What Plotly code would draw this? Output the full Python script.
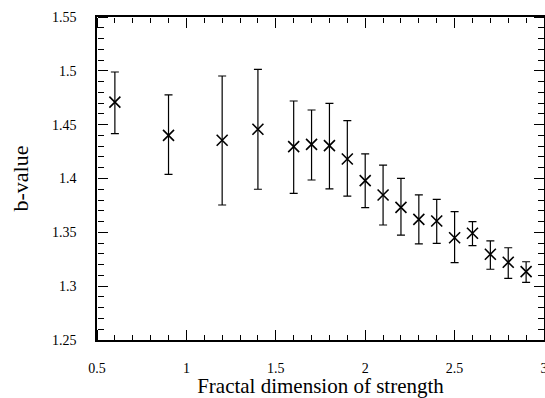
import plotly.graph_objects as go

fractal_dim = [0.6, 0.9, 1.2, 1.4, 1.6, 1.7, 1.8, 1.9, 2.0, 2.1, 2.2, 2.3, 2.4, 2.5, 2.6, 2.7, 2.8, 2.9]
b_value = [1.471, 1.440, 1.4355, 1.4457, 1.4296, 1.4317, 1.4305, 1.4181, 1.398, 1.3847,
           1.3732, 1.3621, 1.3605, 1.345, 1.3491, 1.3296, 1.3222, 1.3135]
b_upper = [1.4989, 1.4776, 1.4952, 1.5014, 1.472, 1.4636, 1.4698, 1.4537, 1.4228, 1.4125,
           1.4002, 1.3847, 1.3807, 1.3692, 1.3599, 1.342, 1.3357, 1.3227]
b_lower = [1.4416, 1.4039, 1.3754, 1.390, 1.3862, 1.3986, 1.3903, 1.3837, 1.3729, 1.3568,
           1.3475, 1.3392, 1.3398, 1.3218, 1.3377, 1.3157, 1.3073, 1.3036]

x_range = [0.5, 3]
y_range = [1.25, 1.55]
x_ticks = [0.5, 1, 1.5, 2, 2.5, 3]
x_tick_labels = ["0.5", "1", "1.5", "2", "2.5", "3"]
y_ticks = [1.25, 1.3, 1.35, 1.4, 1.45, 1.5, 1.55]
y_tick_labels = ["1.25", "1.3", "1.35", "1.4", "1.45", "1.5", "1.55"]

err_plus = [u - v for u, v in zip(b_upper, b_value)]
err_minus = [v - l for v, l in zip(b_value, b_lower)]

FONT = "Liberation Serif"

fig = go.Figure()
fig.add_trace(go.Scatter(
    x=fractal_dim, y=b_value, mode="markers",
    marker=dict(symbol="x-thin", size=11, line=dict(color="black", width=1.6), color="black"),
    error_y=dict(type="data", symmetric=False, array=err_plus, arrayminus=err_minus,
                 color="black", thickness=1.2, width=4),
    showlegend=False,
))
# invisible carriers so that the tick-only overlay axes get drawn
for xa, ya in [("x2", "y2"), ("x3", "y3")]:
    fig.add_trace(go.Scatter(
        x=fractal_dim, y=b_value, mode="markers", xaxis=xa, yaxis=ya,
        marker=dict(opacity=0, size=1), hoverinfo="skip", showlegend=False,
    ))

# main axes: frame line + labels
fig.update_layout(
    xaxis=dict(
        range=x_range, tickmode="array", tickvals=x_ticks, ticktext=x_tick_labels,
        showline=True, linecolor="black", linewidth=1.5, mirror=True, ticks="",
        showgrid=False, zeroline=False, automargin=False, ticklabeloverflow="allow",
        tickfont=dict(family=FONT, size=14, color="black"), ticklabelstandoff=14,
        title=dict(text="Fractal dimension of strength", font=dict(family=FONT, size=21, color="black"), standoff=6),
    ),
    yaxis=dict(
        range=y_range, tickmode="array", tickvals=y_ticks, ticktext=y_tick_labels,
        showline=True, linecolor="black", linewidth=1.5, mirror=True, ticks="",
        showgrid=False, zeroline=False, automargin=False,
        tickfont=dict(family=FONT, size=14, color="black"), ticklabelstandoff=16,
        title=dict(text="b-value", font=dict(family=FONT, size=22, color="black"), standoff=17),
    ),
)

# tick-only overlay axes whose "outside" ticks point into the plot frame
tick_axis = dict(ticks="outside", tickwidth=1.3, tickcolor="black", showticklabels=False,
                 showline=False, showgrid=False, zeroline=False, anchor="free", automargin=False)
x_minor = dict(tickmode="linear", tick0=0.5, dtick=0.1, ticks="outside", ticklen=5,
               tickwidth=1.2, tickcolor="black", showgrid=False)
y_minor = dict(tickmode="linear", tick0=1.25, dtick=0.01, ticks="outside", ticklen=6,
               tickwidth=1.2, tickcolor="black", showgrid=False)

fig.update_layout(
    xaxis2=dict(overlaying="x", side="top", position=0, range=x_range, tickmode="array",
                tickvals=x_ticks, ticklen=10, minor=x_minor, **tick_axis),
    xaxis3=dict(overlaying="x", side="bottom", position=1, range=x_range, tickmode="array",
                tickvals=x_ticks, ticklen=10, minor=x_minor, **tick_axis),
    yaxis2=dict(overlaying="y", side="right", position=0, range=y_range, tickmode="array",
                tickvals=y_ticks, ticklen=10, minor=y_minor, **tick_axis),
    yaxis3=dict(overlaying="y", side="left", position=1, range=y_range, tickmode="array",
                tickvals=y_ticks, ticklen=10, minor=y_minor, **tick_axis),
)

fig.update_layout(
    template="simple_white",
    width=545, height=398,
    margin=dict(l=97, r=1, t=17, b=58),
    plot_bgcolor="white", paper_bgcolor="white",
    showlegend=False,
)

fig.write_html(
    "out.html",
    config={"displayModeBar": False},
    post_script="document.body.style.margin='0';document.body.style.overflow='hidden';",
)
